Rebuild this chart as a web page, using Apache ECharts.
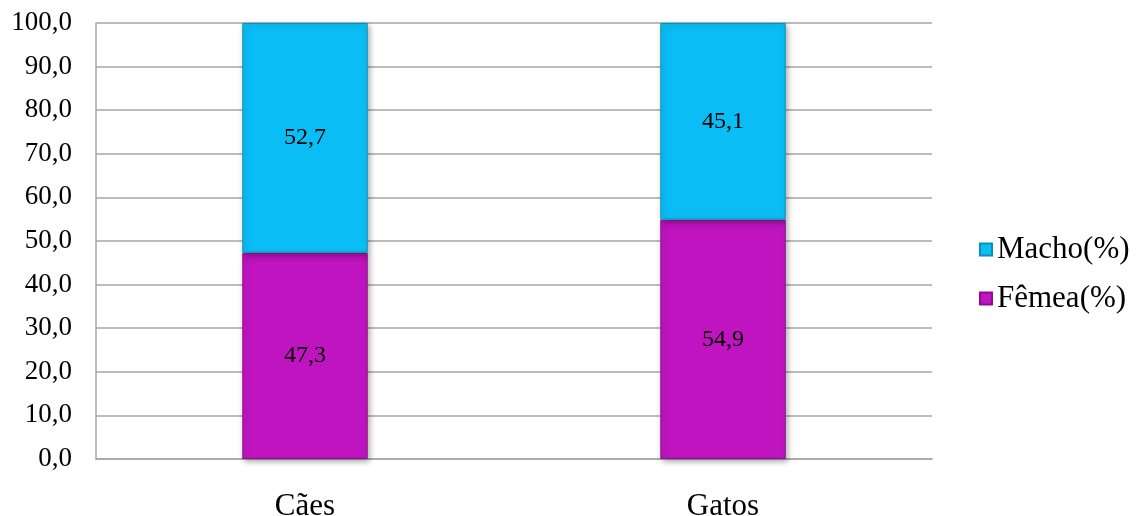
<!DOCTYPE html>
<html>
<head>
<meta charset="utf-8">
<script src="https://cdn.jsdelivr.net/npm/echarts@6/dist/echarts.min.js"></script>
<style>
  html, body { margin: 0; padding: 0; background: #fff; }
  #chart { width: 1137px; height: 516px; }
</style>
</head>
<body>
<div id="chart"></div>
<script>
// Sex distribution of dogs and cats (%), stacked to 100
const categories = ['Cães', 'Gatos'];
const femea = [47.3, 54.9];
const macho = [52.7, 45.1];
const seriesNames = ['Fêmea(%)', 'Macho(%)'];

const fmt = v => Number(v).toFixed(1).replace('.', ',');
const serif = '"Liberation Serif", "Times New Roman", serif';

const chart = echarts.init(document.getElementById('chart'));

function barSeries(name, data, color, edge) {
  return {
    name: name,
    type: 'bar',
    stack: 'total',
    data: data,
    barWidth: '30%',
    itemStyle: {
      color: color,
      borderColor: edge,
      borderWidth: 1,
      shadowColor: 'rgba(0,0,0,0.35)',
      shadowBlur: 6,
      shadowOffsetX: 2,
      shadowOffsetY: 2
    },
    label: {
      show: true,
      position: 'inside',
      formatter: p => fmt(p.value),
      color: '#000',
      fontFamily: serif,
      fontSize: 24
    }
  };
}

chart.setOption({
  animation: false,
  grid: {
    left: 96, right: 205, top: 23, bottom: 57,
    containLabel: false,
    outerBoundsMode: 'none'
  },
  legend: {
    data: [seriesNames[1], seriesNames[0]],
    orient: 'vertical',
    left: 974,
    top: 229,
    itemWidth: 12,
    itemHeight: 12,
    itemGap: 18,
    icon: 'rect',
    textStyle: { fontFamily: serif, fontSize: 31, color: '#000' }
  },
  xAxis: {
    type: 'category',
    data: categories,
    axisLine: { show: true, lineStyle: { color: '#a6a6a6', width: 1.5 } },
    axisTick: { show: false },
    axisLabel: { fontFamily: serif, fontSize: 31, color: '#000', margin: 32 }
  },
  yAxis: {
    type: 'value',
    min: 0,
    max: 100,
    interval: 10,
    axisLine: { show: true, lineStyle: { color: '#a6a6a6', width: 1.5 } },
    axisTick: { show: false },
    splitLine: { lineStyle: { color: '#a6a6a6', width: 1.5 } },
    axisLabel: {
      formatter: v => fmt(v),
      fontFamily: serif,
      fontSize: 27,
      color: '#000',
      margin: 24
    }
  },
  series: [
    barSeries(seriesNames[0], femea, '#c014c0', '#8e0d8e'),
    barSeries(seriesNames[1], macho, '#0abef5', '#0790ba')
  ]
});
</script>
</body>
</html>
